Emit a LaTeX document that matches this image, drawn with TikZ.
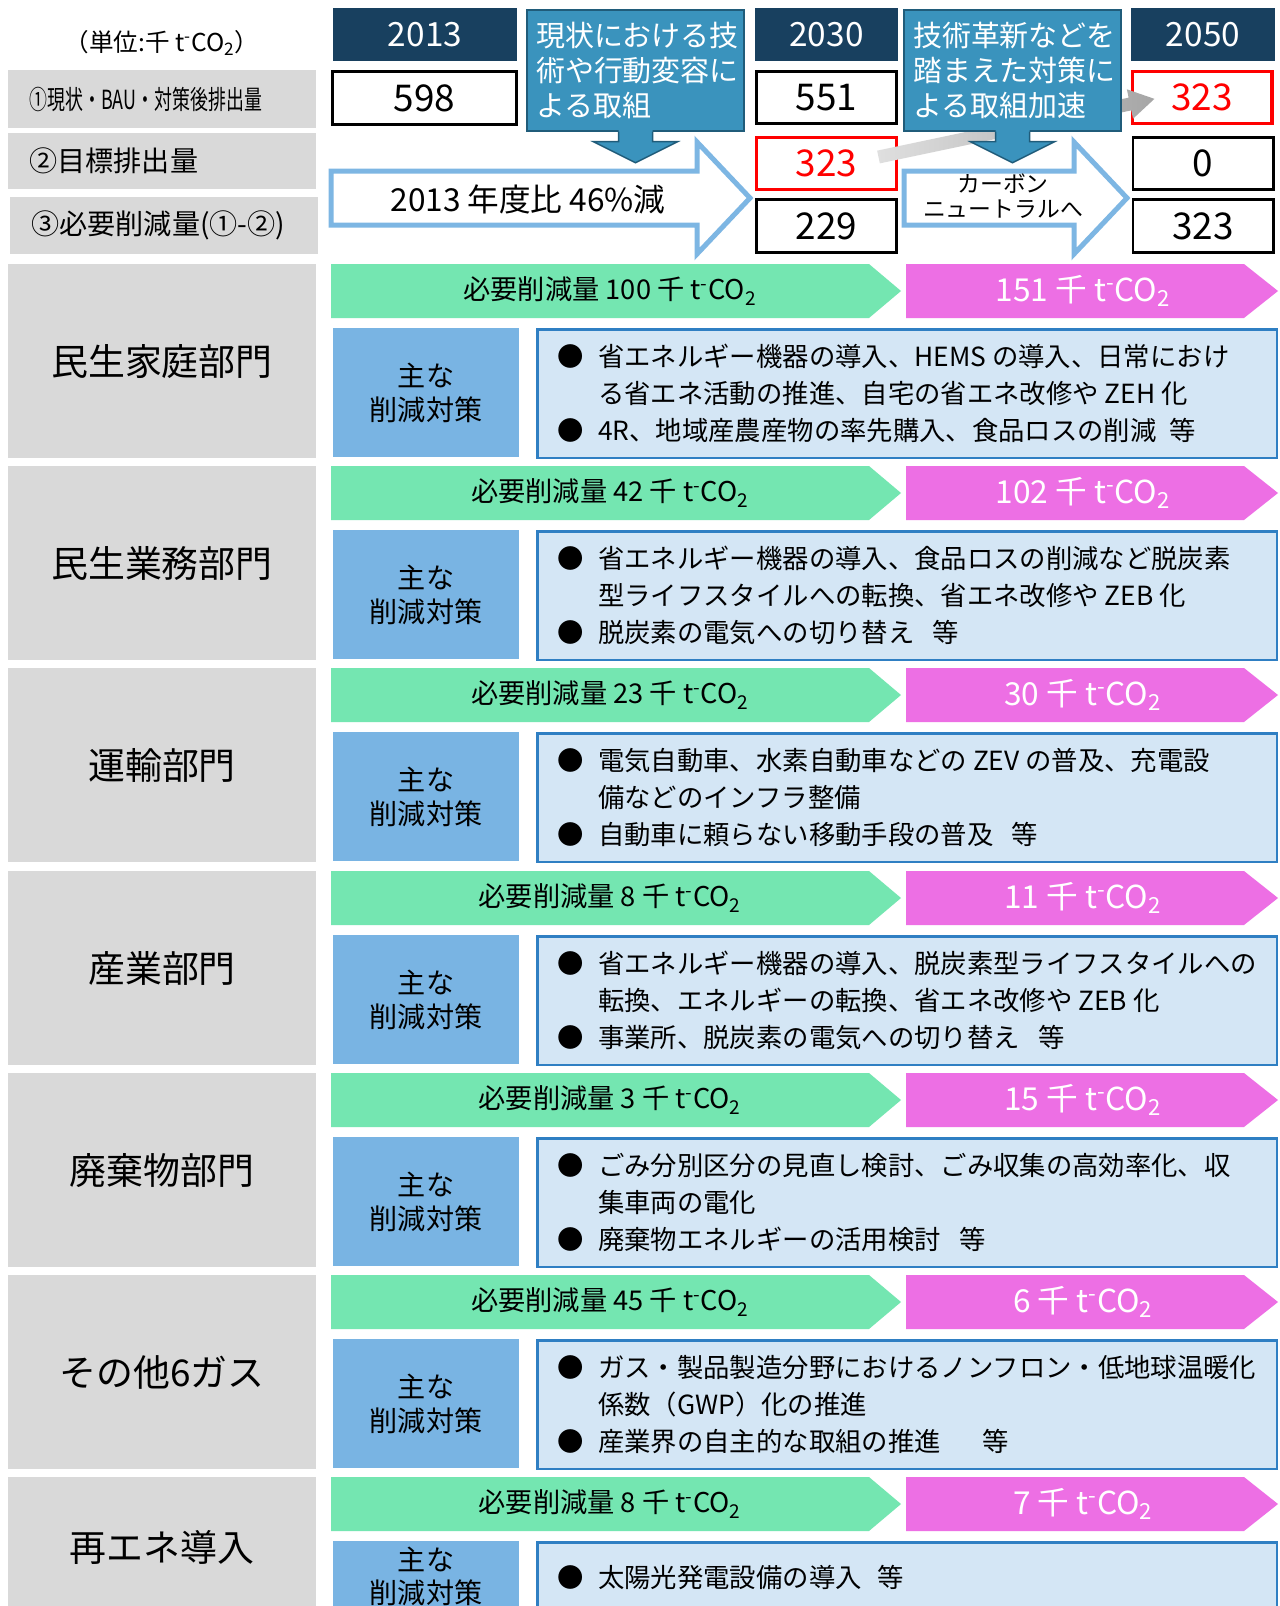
\documentclass[tikz,border=0pt]{standalone}
\usepackage{fontspec}
\setmainfont{Noto Sans CJK JP}
\usepackage{graphicx}
\usepackage{tikz}

\definecolor{navy}{HTML}{18405F}
\definecolor{callfill}{HTML}{3A93BD}
\definecolor{callline}{HTML}{205C7A}
\definecolor{arrowblue}{HTML}{7DB6E3}
\definecolor{lgray}{HTML}{D9D9D9}
\definecolor{needgreen}{HTML}{74E6B1}
\definecolor{magpink}{HTML}{ED6FE4}
\definecolor{midblue}{HTML}{79B4E3}
\definecolor{boxfill}{HTML}{D4E6F5}
\definecolor{boxline}{HTML}{2F7FC3}

\newcommand{\tco}{t\textsuperscript{-}CO\textsubscript{2}}
\newcommand{\blt}{●\hspace{0.55em}}
\newcommand{\bsp}{\phantom{●}\hspace{0.55em}}

\begin{document}
\begin{tikzpicture}[x=0.02cm, y=-0.02cm,
  hdr/.style={fill=navy, text=white, font=\fontsize{19}{22}\selectfont,
              minimum width=2.86cm, minimum height=1.06cm, inner sep=0pt},
  val/.style={draw, line width=0.05cm, fill=white, font=\fontsize{21}{24}\selectfont,
              minimum width=2.81cm, minimum height=1.05cm, inner sep=0pt},
  redval/.style={val, draw=red, text=red, line width=0.07cm},
  rowlab/.style={fill=lgray, font=\fontsize{16}{18}\selectfont, text width=5.3cm,
                 inner xsep=0.43cm, inner ysep=0pt, align=left},
  callout/.style={fill=callfill, draw=callline, line width=0.03cm, text=white,
                  font=\fontsize{16.5}{19.9}\selectfont, text width=3.98cm,
                  inner xsep=0.18cm, minimum height=2.42cm, align=left},
  hollow/.style={draw=arrowblue, line width=0.1cm, fill=white},
  sect/.style={fill=lgray, font=\fontsize{21}{24}\selectfont, minimum width=6.16cm,
               inner sep=0pt, anchor=north},
  needtxt/.style={font=\fontsize{15.5}{18}\selectfont},
  magtxt/.style={text=white, font=\fontsize{18}{20}\selectfont},
  measure/.style={fill=midblue, align=center, font=\fontsize{16}{19.2}\selectfont,
                  minimum width=3.72cm, inner sep=0pt, anchor=north},
  detail/.style={draw=boxline, fill=boxfill, line width=0.05cm, minimum width=14.8cm,
                 inner sep=0pt, anchor=north west},
  bullets/.style={align=left, font=\fontsize{15}{21}\selectfont, inner sep=0pt, anchor=west}]
\useasboundingbox (0,0) rectangle (1279,1606);
\clip (0,0) rectangle (1279,1606);
\fill[white] (0,0) rectangle (1279,1606);

% header rows
\node[font=\fontsize{14}{16}\selectfont] (unit) at (162,43) {（単位:千 \tco）};
\node[rowlab, minimum height=1.16cm] (q1) at (162,99) {\fontsize{15}{18}\selectfont\scalebox{0.68}[1]{①現状・BAU・対策後排出量}};
\node[rowlab, minimum height=1.12cm] (q2) at (162,161) {②目標排出量};
\node[rowlab, minimum height=1.14cm] (q3) at (164,225.5) {③必要削減量(①-②)};

\node[hdr, minimum width=3.68cm] (y2013) at (425,34.5) {2013};
\node[hdr] (y2030) at (826.5,34.5) {2030};
\node[hdr, minimum width=2.88cm] (y2050) at (1203,34.5) {2050};

\draw[hollow] (331,171) -- (697,171) -- (697,142) -- (750,198) -- (697,254) -- (697,225) -- (331,225) -- cycle;
\node[font=\fontsize{18}{20}\selectfont] (cut) at (528,199) {2013 年度比 46\%減};
\draw[hollow] (904,171) -- (1074,171) -- (1074,142) -- (1127,198) -- (1074,254) -- (1074,225) -- (904,225) -- cycle;
\node[font=\fontsize{13}{14}\selectfont, align=center] (neutral) at (1003,196) {カーボン\\ニュートラルへ};

\node[val, minimum width=3.69cm, minimum height=1.07cm] (e2013) at (424.5,98) {598};
\node[val] (e2030) at (826.5,97.5) {551};
\node[redval] (g2030) at (826.5,163.5) {323};
\node[val, minimum height=1.07cm] (d2030) at (826.5,226) {229};
\node[redval, minimum width=2.79cm] (e2050) at (1202,97.5) {323};
\node[val] (g2050) at (1203,163.5) {0};
\node[val, minimum height=1.07cm] (d2050) at (1203,226) {323};

% grey link 2030 -> 2050
\coordinate (g0) at ([xshift=-0.4cm, yshift=0.13cm]g2030.east);
\begin{scope}[shift={(g0)}, rotate=11.9]
  \shade[left color=gray!25, right color=gray!70] (0,-6.5) -- (257,-6.5) -- (257,-15) -- (282,0)
    -- (257,15) -- (257,6.5) -- (0,6.5) -- cycle;
\end{scope}

\node[callout] (act1) at (635.5,70.5) {現状における技\\術や行動変容に\\よる取組};
\node[callout] (act2) at (1012.5,70.5) {技術革新などを\\踏まえた対策に\\よる取組加速};
\foreach \c in {act1,act2} {
  \fill[callfill] ([xshift=-0.34cm, yshift=0.03cm]\c.south) -- ++(0,11.5) -- ++(-25,0) -- ++(42,21)
    -- ++(42,-21) -- ++(-25,0) -- ++(0,-11.5) -- cycle;
  \draw[callline, line width=0.03cm] ([xshift=-0.34cm]\c.south) -- ++(0,10) -- ++(-25,0) -- ++(42,21)
    -- ++(42,-21) -- ++(-25,0) -- ++(0,-10);
}

% sectors
\foreach \ty/\lab/\need/\mag/\gh/\bh/\items [count=\i] in {
  264/民生家庭部門/100/151/3.88cm/2.58cm/{\blt 省エネルギー機器の導入、HEMS の導入、日常におけ\\\bsp る省エネ活動の推進、自宅の省エネ改修や ZEH 化\\\blt 4R、地域産農産物の率先購入、食品ロスの削減\hspace{0.5em}等},
  466/民生業務部門/42/102/3.88cm/2.58cm/{\blt 省エネルギー機器の導入、食品ロスの削減など脱炭素\\\bsp 型ライフスタイルへの転換、省エネ改修や ZEB 化\\\blt 脱炭素の電気への切り替え\hspace{0.7em}等},
  668/運輸部門/23/30/3.88cm/2.58cm/{\blt 電気自動車、水素自動車などの ZEV の普及、充電設\\\bsp 備などのインフラ整備\\\blt 自動車に頼らない移動手段の普及\hspace{0.7em}等},
  871/産業部門/8/11/3.88cm/2.58cm/{\blt 省エネルギー機器の導入、脱炭素型ライフスタイルへの\\\bsp 転換、エネルギーの転換、省エネ改修や ZEB 化\\\blt 事業所、脱炭素の電気への切り替え\hspace{0.7em}等},
  1073/廃棄物部門/3/15/3.88cm/2.58cm/{\blt ごみ分別区分の見直し検討、ごみ収集の高効率化、収\\\bsp 集車両の電化\\\blt 廃棄物エネルギーの活用検討\hspace{0.7em}等},
  1275/その他6ガス/45/6/3.88cm/2.58cm/{\blt ガス・製品製造分野におけるノンフロン・低地球温暖化\\\bsp 係数（GWP）化の推進\\\blt 産業界の自主的な取組の推進\hspace{1.6em}等},
  1477/再エネ導入/8/7/2.8cm/1.4cm/{\blt 太陽光発電設備の導入\hspace{0.6em}等}} {
  \node[sect, minimum height=\gh] (s\i) at (162,\ty) {\lab};
  \fill[needgreen] (331,\ty) -- (869,\ty) -- (901,\ty+27) -- (869,\ty+54) -- (331,\ty+54) -- cycle;
  \node[needtxt] (n\i) at (610,\ty+27) {必要削減量 \need{} 千 \tco};
  \fill[magpink] (906,\ty) -- (1244,\ty) -- (1278,\ty+27) -- (1244,\ty+54) -- (906,\ty+54) -- cycle;
  \node[magtxt] (m\i) at (1083,\ty+27) {\mag{} 千 \tco};
  \node[measure, minimum height=\bh] (k\i) at (426,\ty+64) {主な\\削減対策};
  \node[detail, minimum height=\bh] (d\i) at (536,\ty+64) {};
  \node[bullets] (b\i) at ([xshift=0.42cm]d\i.west) {\items};
}
\end{tikzpicture}
\end{document}
